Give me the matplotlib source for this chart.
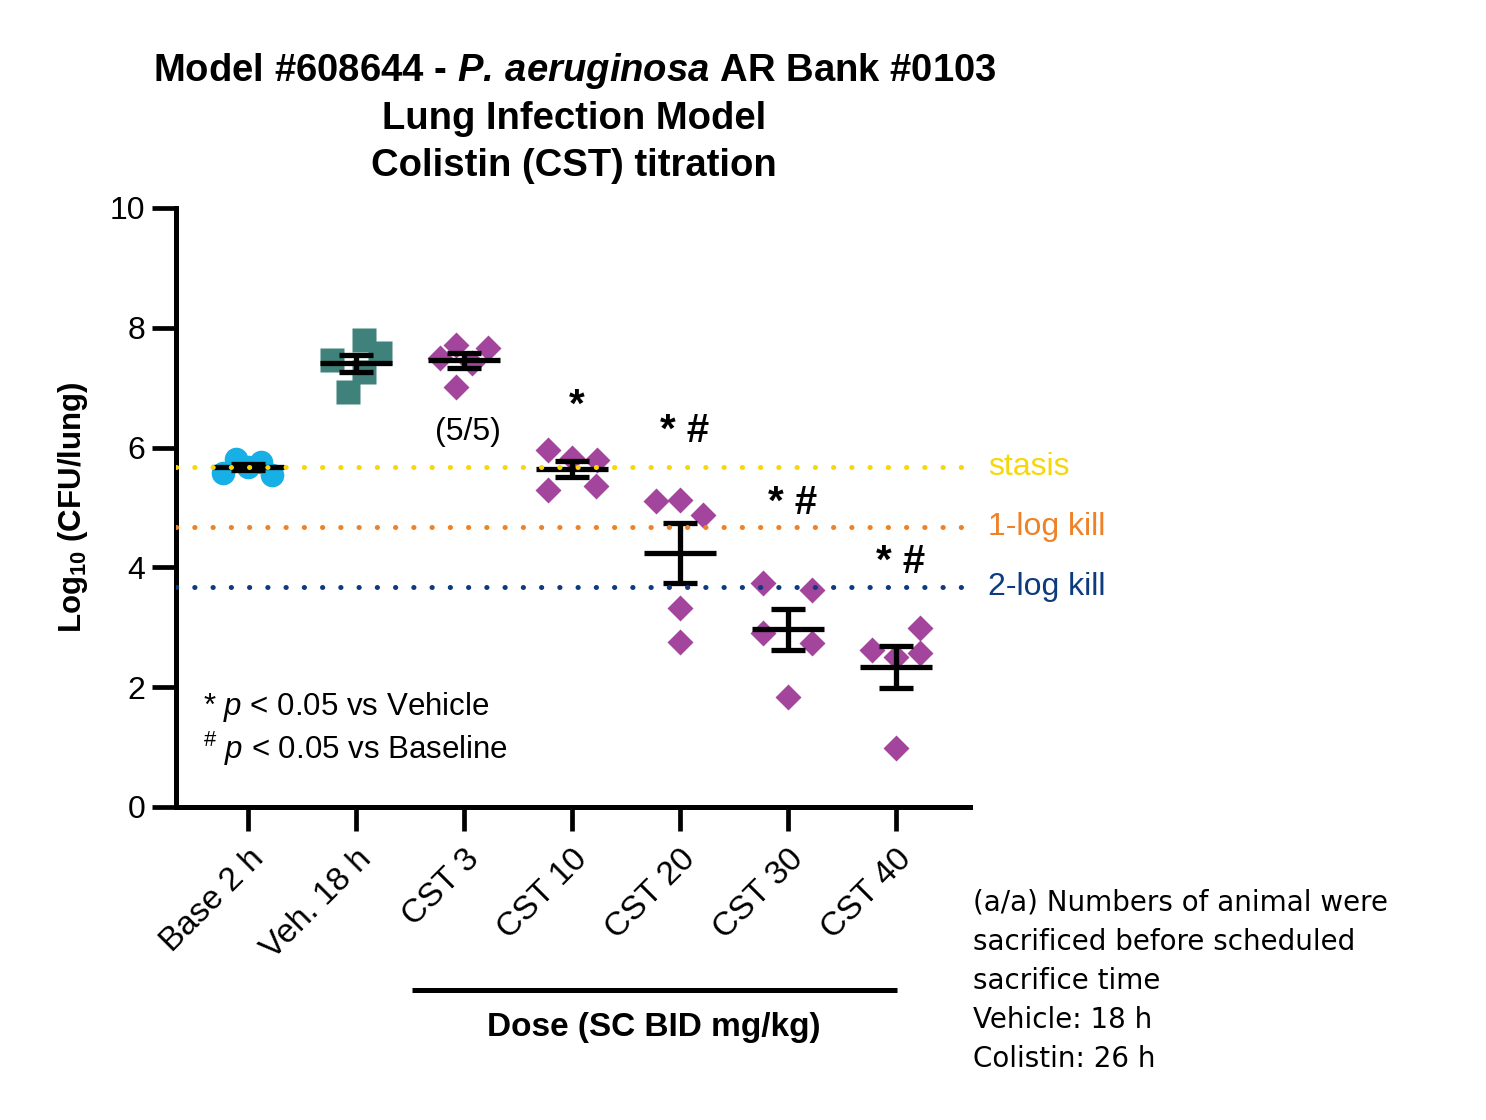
import matplotlib
matplotlib.use("Agg")
import matplotlib.pyplot as plt
import matplotlib.transforms as mtransforms
import numpy as np

plt.rcParams["font.family"] = ["Liberation Sans", "DejaVu Sans"]
plt.rcParams["mathtext.fontset"] = "custom"
plt.rcParams["mathtext.rm"] = "Liberation Sans"
plt.rcParams["mathtext.it"] = "Liberation Sans:italic"
plt.rcParams["mathtext.bf"] = "Liberation Sans:bold"
plt.rcParams["mathtext.bfit"] = "Liberation Sans:bold:italic"

# ---- data ----
groups = ["Base 2 h", "Veh. 18 h", "CST 3", "CST 10", "CST 20", "CST 30", "CST 40"]

base_vals = [5.58, 5.81, 5.68, 5.76, 5.54]
base_dx = [-0.23, -0.11, 0.0, 0.12, 0.22]
veh_vals = [7.46, 6.93, 7.80, 7.26, 7.58]
veh_dx = [-0.22, -0.07, 0.07, 0.07, 0.22]
cst3_vals = [7.50, 7.71, 7.01, 7.41, 7.66]
cst3_dx = [-0.22, -0.07, -0.07, 0.07, 0.22]
cst10_vals = [5.96, 5.29, 5.83, 5.79, 5.36]
cst10_dx = [-0.22, -0.22, 0.0, 0.23, 0.22]
cst20_vals = [5.11, 5.12, 3.32, 2.76, 4.87]
cst20_dx = [-0.22, 0.0, 0.0, 0.0, 0.21]
cst30_vals = [3.74, 2.90, 1.84, 3.62, 2.74]
cst30_dx = [-0.23, -0.23, 0.0, 0.22, 0.22]
cst40_vals = [2.62, 2.50, 0.99, 2.99, 2.57]
cst40_dx = [-0.22, 0.0, 0.0, 0.22, 0.22]

all_vals = [base_vals, veh_vals, cst3_vals, cst10_vals, cst20_vals, cst30_vals, cst40_vals]
all_dx = [base_dx, veh_dx, cst3_dx, cst10_dx, cst20_dx, cst30_dx, cst40_dx]
markers = ["o", "s", "D", "D", "D", "D", "D"]
msizes = [17, 17.5, 13, 13, 13, 13, 13]
colors = ["#17b0e6", "#3f817b", "#a3449d", "#a3449d", "#a3449d", "#a3449d", "#a3449d"]

ref_levels = [5.67, 4.67, 3.67]
ref_labels = ["stasis", "1-log kill", "2-log kill"]
ref_colors = ["#f7d70a", "#ef8226", "#0d3b7f"]

sig_groups = [3, 4, 5, 6]
sig_text = ["*", "* #", "* #", "* #"]
sig_y = [6.51, 6.09, 4.89, 3.91]

note_lines = ["(a/a) Numbers of animal were", "sacrificed before scheduled",
              "sacrifice time", "Vehicle: 18 h", "Colistin: 26 h"]

# ---- figure ----
fig = plt.figure(figsize=(14.86, 11.2), dpi=100)
ax = fig.add_axes([0.1184, 0.2795, 0.5343, 0.5348])
x = np.arange(len(groups))

for i in range(len(groups)):
    v = np.array(all_vals[i])
    ax.plot(x[i] + np.array(all_dx[i]), v, linestyle="none", marker=markers[i],
            ms=msizes[i], color=colors[i], mec="none", zorder=2)
    m = v.mean()
    sem = v.std(ddof=1) / np.sqrt(len(v))
    ax.hlines(m, x[i] - 0.33, x[i] + 0.33, colors="k", lw=3.8, zorder=4)
    ax.errorbar(x[i], m, yerr=sem, fmt="none", ecolor="k", elinewidth=3.8,
                capsize=12.5, capthick=3.8, zorder=4)

for lev, lab, c in zip(ref_levels, ref_labels, ref_colors):
    ax.axhline(lev, color=c, lw=3.6, linestyle=(0, (0.05, 3.6)),
               dash_capstyle="round", zorder=5)
    ax.text(1.0227, lev, lab, transform=ax.get_yaxis_transform(), color=c,
            fontsize=23, va="center", ha="left", clip_on=False)

for g, t, yy in zip(sig_groups, sig_text, sig_y):
    ax.text(x[g] + 0.04, yy, t, fontsize=29, fontweight="bold", ha="center",
            va="baseline")

ax.text(x[2] + 0.04, 6.26, "(5/5)", fontsize=23, ha="center", va="center")

ax.text(-0.42, 1.53, "* $p$ < 0.05 vs Vehicle", fontsize=22.5, va="baseline")
ax.text(-0.42, 0.80, "$^{\\#}$ $p$ < 0.05 vs Baseline", fontsize=22.5, va="baseline")

ax.set_xlim(-0.667, 6.685)
ax.set_ylim(0, 10)
ax.set_yticks([0, 2, 4, 6, 8, 10])
ax.set_xticks(x)
ax.set_xticklabels(groups, rotation=45, ha="right", rotation_mode="anchor")
ax.spines["top"].set_visible(False)
ax.spines["right"].set_visible(False)
for s in ["left", "bottom"]:
    ax.spines[s].set_linewidth(3.6)
ax.tick_params(axis="both", width=3.4, length=17, color="k")
ax.tick_params(axis="y", labelsize=23, pad=5)
ax.tick_params(axis="x", labelsize=24, pad=9)
ax.set_ylabel("Log$_{\\mathbf{10}}$ (CFU/lung)", fontsize=22.5, fontweight="bold", labelpad=14)

# dose bracket under CST groups
trans = mtransforms.blended_transform_factory(ax.transData, ax.transAxes)
ax.plot([1.52, 6.01], [-0.3055, -0.3055], color="k", lw=3.6, transform=trans,
        clip_on=False, solid_capstyle="butt")
fig.text(0.440, 0.083, "Dose (SC BID mg/kg)", fontsize=24, fontweight="bold",
         ha="center", va="center")

# title
fig.text(0.3865, 0.9365, "Model #608644 - $\\mathbfit{P.\\,aeruginosa}$ AR Bank #0103",
         fontsize=27.5, fontweight="bold", ha="center", va="center")
fig.text(0.3865, 0.8935, "Lung Infection Model", fontsize=27.5, fontweight="bold",
         ha="center", va="center")
fig.text(0.3865, 0.8515, "Colistin (CST) titration", fontsize=27.5, fontweight="bold",
         ha="center", va="center")

# footnote
for k, line in enumerate(note_lines):
    fig.text(0.6548, 1 - (911 + 39 * k) / 1120, line, fontsize=20,
             family="DejaVu Sans", ha="left", va="baseline")

fig.savefig("out.png", dpi=100)
